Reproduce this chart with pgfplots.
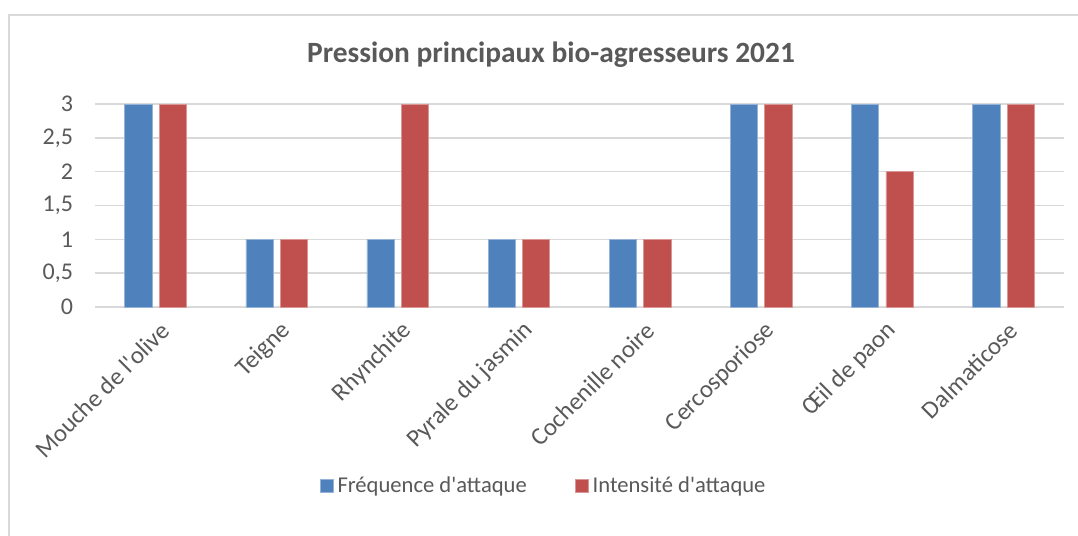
\documentclass[border=0pt]{standalone}
\usepackage{fontspec}
\setmainfont{Carlito}[Ligatures=TeXOff]
\usepackage{pgfplots}
\pgfplotsset{compat=1.18}

\definecolor{bleu}{HTML}{4F81BD}
\definecolor{rouge}{HTML}{C0504D}
\definecolor{grille}{HTML}{D9D9D9}
\definecolor{texte}{HTML}{595959}

% one pixel of the reference = 0.5pt
\begin{document}
\begin{tikzpicture}
  \useasboundingbox (0pt,0pt) rectangle (539pt,-268pt);
  \draw[grille, line width=0.75pt] (4.5pt,-275pt) -- (4.5pt,-7.5pt) -- (545pt,-7.5pt);
  \node[texte, font=\fontsize{14.7}{17}\selectfont\bfseries] at (275.5pt,-27.5pt)
    {Pression principaux bio-agresseurs 2021};
  \begin{axis}[
    at={(47.5pt,-153.5pt)}, anchor=south west,
    scale only axis,
    width=484.5pt, height=101.5pt,
    xmin=-0.5, xmax=7.5,
    ymin=0, ymax=3,
    ytick={0,0.5,...,3},
    xtick={0,...,7},
    xticklabels={Mouche de l'olive, Teigne, Rhynchite, Pyrale du jasmin,
      Cochenille noire, Cercosporiose, Œil de paon, Dalmaticose},
    axis line style={draw=none},
    major tick length=0pt,
    ymajorgrids,
    grid style={grille, line width=0.75pt},
    /pgf/number format/use comma,
    /pgf/number format/assume math mode=true,
    tick label style={texte, font=\fontsize{12}{14}\selectfont},
    yticklabel style={xshift=-7.5pt},
    xticklabel style={rotate=45, anchor=east, yshift=-10.5pt, xshift=0pt,
      font=\fontsize{12.4}{15}\selectfont},
    ybar, bar width=0.225,
    legend columns=2,
    legend style={at={(0.464,-0.882)}, anchor=center, draw=none,
      font=\fontsize{11.3}{13}\selectfont, text=texte,
      /tikz/every even column/.append style={column sep=22pt}},
    legend image code/.code={\fill[#1] (0pt,-3.3pt) rectangle (6.6pt,3.3pt);},
  ]
    \addplot[fill=bleu, draw=bleu!60!white, line width=0.3pt, bar shift=-0.142]
      coordinates {(0,3) (1,1) (2,1) (3,1) (4,1) (5,3) (6,3) (7,3)};
    \addplot[fill=rouge, draw=rouge!60!white, line width=0.3pt, bar shift=0.142]
      coordinates {(0,3) (1,1) (2,3) (3,1) (4,1) (5,3) (6,2) (7,3)};
    \legend{Fréquence d'attaque, Intensité d'attaque}
  \end{axis}
\end{tikzpicture}
\end{document}
